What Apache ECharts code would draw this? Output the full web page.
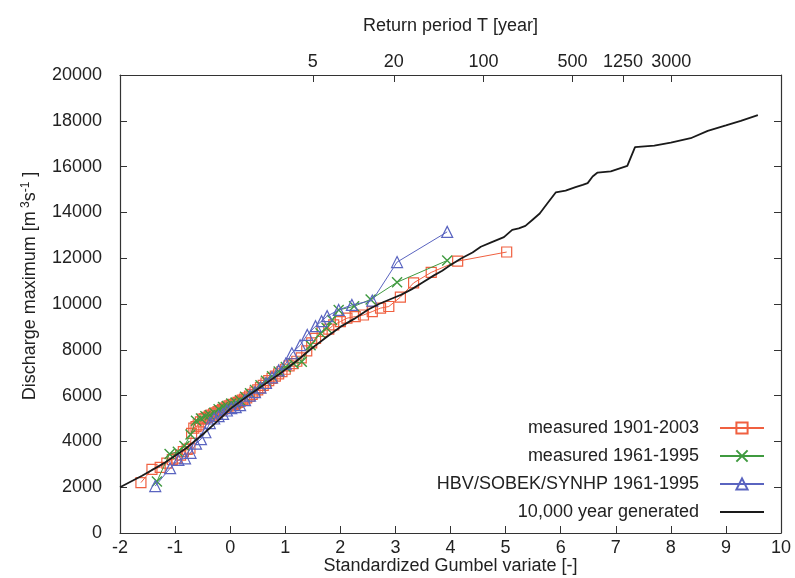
<!DOCTYPE html>
<html>
<head>
<meta charset="utf-8">
<script src="https://cdn.jsdelivr.net/npm/echarts@6/dist/echarts.min.js"></script>
<style>
  html, body { margin: 0; padding: 0; background: #fff; }
  #chart { width: 795px; height: 578px; }
</style>
</head>
<body>
<div id="chart"></div>
<script>
// measured 1901-2003 (red squares)
var redX = [-1.62, -1.42, -1.27, -1.15, -1.05, -0.97, -0.90, -0.85, -0.78, -0.73, -0.70, -0.66, -0.62, -0.58,
  -0.54, -0.50, -0.46, -0.42, -0.38, -0.34, -0.30, -0.26, -0.22, -0.18, -0.14, -0.10, -0.06, -0.02, 0.02,
  0.06, 0.10, 0.14, 0.18, 0.22, 0.26, 0.30, 0.35, 0.40, 0.45, 0.50, 0.55, 0.60, 0.65, 0.70, 0.76, 0.82,
  0.88, 0.94, 1.00, 1.07, 1.14, 1.21, 1.29, 1.39, 1.48, 1.55, 1.67, 1.79, 1.88, 2.00, 2.12, 2.27, 2.42,
  2.58, 2.73, 2.88, 3.09, 3.33, 3.65, 4.13, 5.02];
var redY = [2200, 2780, 2870, 3050, 3200, 3270, 3400, 3550, 3650, 3700, 4350, 4580, 4650, 4720,
  4850, 4970, 5000, 5050, 5100, 5150, 5200, 5250, 5300, 5350, 5400, 5450, 5500, 5550, 5600,
  5620, 5650, 5700, 5750, 5800, 5850, 5900, 5980, 6050, 6150, 6250, 6350, 6450, 6550, 6650, 6750, 6850,
  6950, 7050, 7150, 7300, 7400, 7500, 7650, 7950, 8300, 8500, 8800, 8900, 9090, 9230, 9380, 9450, 9520,
  9670, 9820, 9890, 10300, 10920, 11380, 11870, 12270];

// measured 1961-1995 (green crosses)
var greenX = [-1.33, -1.10, -0.95, -0.83, -0.72, -0.62, -0.53, -0.45, -0.37, -0.29, -0.21, -0.13, -0.06, 0.02,
  0.10, 0.18, 0.27, 0.36, 0.45, 0.55, 0.65, 0.76, 0.88, 1.01, 1.15, 1.30, 1.46, 1.64, 1.75, 1.85, 1.97,
  2.25, 2.55, 3.03, 3.94];
var greenY = [2250, 3450, 3550, 3800, 4300, 4900, 5000, 5100, 5150, 5250, 5400, 5500, 5550, 5650,
  5700, 5800, 5950, 6100, 6250, 6450, 6650, 6850, 7050, 7250, 7400, 7480, 8200, 8720, 8950, 9300, 9740,
  9900, 10200, 10950, 11900];

// HBV/SOBEK/SYNHP 1961-1995 (blue triangles)
var blueX = [-1.36, -1.09, -0.94, -0.82, -0.72, -0.62, -0.53, -0.45, -0.37, -0.29, -0.21, -0.13, -0.06, 0.02,
  0.10, 0.18, 0.27, 0.36, 0.45, 0.55, 0.65, 0.76, 0.88, 1.01, 1.12, 1.27, 1.40, 1.55, 1.66, 1.76, 1.97,
  2.21, 2.58, 3.03, 3.94];
var blueY = [2050, 2830, 3190, 3260, 3500, 3900, 4100, 4400, 4800, 5000, 5100, 5200, 5350, 5450,
  5500, 5580, 5800, 6000, 6150, 6350, 6550, 6800, 7100, 7400, 7850, 8200, 8650, 9030, 9250, 9470, 9740,
  9960, 10150, 11830, 13150];

// 10,000 year generated (black line)
var genX = [-2.00, -1.60, -1.20, -0.80, -0.50, -0.20, 0.00, 0.30, 0.60, 0.90, 1.20, 1.50, 1.80, 2.00,
  2.25, 2.50, 2.70, 2.95, 3.10, 3.30, 3.50, 3.70, 3.85, 4.00, 4.20, 4.40, 4.55, 4.75, 4.97, 5.12, 5.24,
  5.36, 5.49, 5.62, 5.76, 5.91, 6.09, 6.27, 6.40, 6.49, 6.58, 6.67, 6.91, 7.21, 7.35, 7.70, 8.00, 8.36,
  8.67, 9.00, 9.27, 9.58];
var genY = [2000, 2500, 3050, 3700, 4300, 4950, 5420, 5950, 6450, 6950, 7500, 8100, 8650, 9000,
  9350, 9750, 10000, 10250, 10400, 10650, 10950, 11250, 11450, 11700, 12000, 12250, 12500, 12700, 12920, 13240, 13300,
  13410, 13680, 13950, 14400, 14870, 14950, 15100, 15200, 15280, 15570, 15740, 15790, 16030, 16850, 16920, 17050, 17240,
  17560, 17800, 18000, 18250];

// return period tick labels on the top axis
var returnPeriods = [5, 20, 100, 500, 1250, 3000];

var font = "'Liberation Sans', Arial, sans-serif";

function pairs(xs, ys) {
  var out = [];
  for (var i = 0; i < xs.length; i++) out.push([xs[i], ys[i]]);
  return out;
}
// Gumbel reduced variate of a return period
function gumbel(T) {
  return -Math.log(-Math.log(1 - 1 / T));
}
var topPos = returnPeriods.map(gumbel);

var chart = echarts.init(document.getElementById("chart"));
var option = {
  animation: false,
  backgroundColor: "#fff",
  textStyle: { fontFamily: font, color: "#222" },
  grid: { left: 120, right: 14, top: 75, bottom: 45, outerBoundsMode: "none", containLabel: false },
  legend: {
    orient: "vertical",
    right: 25,
    top: 414,
    align: "right",
    itemWidth: 44,
    itemHeight: 14,
    itemGap: 10,
    textStyle: { fontFamily: font, fontSize: 18, color: "#222", padding: [0, 16, 0, 0] },
    data: [
      "measured 1901-2003",
      "measured 1961-1995",
      "HBV/SOBEK/SYNHP 1961-1995",
      { name: "10,000 year generated", itemStyle: { opacity: 0 } }
    ]
  },
  xAxis: [
    {
      type: "value",
      min: -2,
      max: 10,
      interval: 1,
      position: "bottom",
      name: "Standardized Gumbel variate [-]",
      nameLocation: "middle",
      nameGap: 24,
      nameMoveOverlap: false,
      nameTextStyle: { fontFamily: font, fontSize: 18, color: "#222" },
      axisLine: { onZero: false, lineStyle: { color: "#333", width: 1.2 } },
      axisTick: { inside: true, length: 7, lineStyle: { color: "#333" } },
      axisLabel: { fontFamily: font, fontSize: 18, color: "#222", margin: 6 },
      splitLine: { show: false }
    },
    {
      type: "value",
      min: -2,
      max: 10,
      position: "top",
      name: "Return period T [year]",
      nameLocation: "middle",
      nameGap: 40,
      nameTextStyle: { fontFamily: font, fontSize: 18, color: "#222" },
      axisLine: { onZero: false, lineStyle: { color: "#333", width: 1.2 } },
      axisTick: { inside: true, length: 7, customValues: topPos, lineStyle: { color: "#333" } },
      axisLabel: {
        fontFamily: font, fontSize: 18, color: "#222", margin: 4,
        customValues: topPos,
        formatter: function (v) {
          return String(Math.round(1 / (1 - Math.exp(-Math.exp(-v)))));
        }
      },
      splitLine: { show: false }
    }
  ],
  yAxis: [
    {
      type: "value",
      min: 0,
      max: 20000,
      interval: 2000,
      name: "{t|Discharge maximum [m}{s| 3}{t|s}{s|-1}{t| ]}",
      nameLocation: "middle",
      nameGap: 80,
      nameRotate: 90,
      nameTextStyle: {
        padding: [0, 0, 0, 36],
        rich: {
          t: { fontFamily: font, fontSize: 18, color: "#222" },
          s: { fontFamily: font, fontSize: 12, color: "#222", verticalAlign: "top", padding: [0, 0, 8, 0] }
        }
      },
      axisLine: { onZero: false, lineStyle: { color: "#333", width: 1.2 } },
      axisTick: { inside: true, length: 7, lineStyle: { color: "#333" } },
      axisLabel: {
        fontFamily: font, fontSize: 18, color: "#222", margin: 18,
        formatter: function (v) { return String(v); }
      },
      splitLine: { show: false }
    },
    {
      type: "value",
      min: 0,
      max: 20000,
      interval: 2000,
      position: "right",
      axisLine: { show: true, onZero: false, lineStyle: { color: "#333", width: 1.2 } },
      axisTick: { show: true, inside: true, length: 7, lineStyle: { color: "#333" } },
      axisLabel: { show: false },
      splitLine: { show: false }
    }
  ],
  series: [
    {
      name: "measured 1901-2003",
      type: "line",
      data: pairs(redX, redY),
      symbol: "rect",
      symbolSize: 10,
      color: "#f06040",
      lineStyle: { color: "#f06040", width: 1 },
      itemStyle: { color: "rgba(0,0,0,0)", borderColor: "#f06040", borderWidth: 1.2 },
      z: 3
    },
    {
      name: "measured 1961-1995",
      type: "line",
      data: pairs(greenX, greenY),
      symbol: "path://M0,0L10,10M10,0L0,10",
      symbolSize: 10,
      color: "#3f9a3f",
      lineStyle: { color: "#3f9a3f", width: 1 },
      itemStyle: { color: "rgba(0,0,0,0)", borderColor: "#3f9a3f", borderWidth: 1.4 },
      z: 4
    },
    {
      name: "HBV/SOBEK/SYNHP 1961-1995",
      type: "line",
      data: pairs(blueX, blueY),
      symbol: "triangle",
      symbolSize: 11,
      color: "#5a64c0",
      lineStyle: { color: "#5a64c0", width: 1 },
      itemStyle: { color: "rgba(0,0,0,0)", borderColor: "#5a64c0", borderWidth: 1.2 },
      z: 5
    },
    {
      name: "10,000 year generated",
      type: "line",
      data: pairs(genX, genY),
      showSymbol: false,
      symbol: "none",
      color: "#1a1a1a",
      lineStyle: { color: "#1a1a1a", width: 1.8 },
      z: 6
    }
  ]
};
chart.setOption(option);
</script>
</body>
</html>
